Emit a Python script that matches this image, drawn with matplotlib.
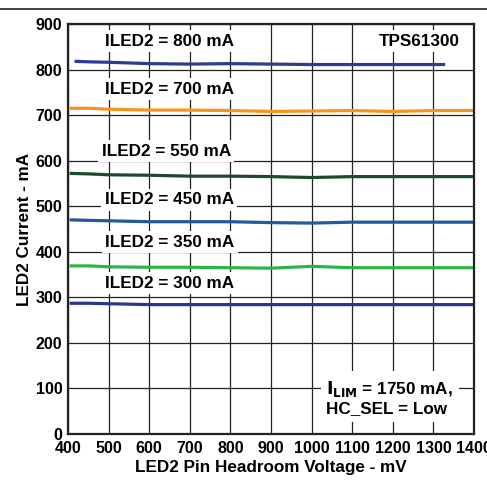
import matplotlib.pyplot as plt
from matplotlib.lines import Line2D

plt.rcParams['font.family'] = ['Liberation Sans', 'DejaVu Sans']
plt.rcParams['font.weight'] = 'bold'

# headroom voltage (mV) and LED2 current (mA)
v_800 = [420, 450, 500, 600, 700, 800, 900, 1000, 1100, 1200, 1325]
i_800 = [818, 817, 816, 813, 812, 813, 812, 811, 811, 811, 811]

v_std = [408, 450, 500, 600, 700, 800, 900, 1000, 1100, 1200, 1300, 1400]
i_700 = [715, 715, 713, 711, 711, 710, 708, 709, 710, 708, 710, 710]
i_550 = [572, 571, 569, 568, 566, 566, 565, 563, 565, 565, 565, 565]
i_450 = [470, 469, 468, 466, 466, 466, 464, 463, 465, 465, 465, 465]
i_350 = [369, 369, 367, 366, 366, 365, 364, 368, 365, 365, 365, 365]
i_300 = [287, 287, 286, 284, 284, 284, 284, 284, 284, 284, 284, 284]

labels = ['ILED2 = 800 mA', 'ILED2 = 700 mA', 'ILED2 = 550 mA',
          'ILED2 = 450 mA', 'ILED2 = 350 mA', 'ILED2 = 300 mA']
label_x = [650, 651, 642, 649, 651, 649]
label_y = [862, 757, 621, 514, 421, 331]

fig = plt.figure(figsize=(4.87, 4.8), dpi=100)
ax = fig.add_axes([68 / 487, 46 / 480, 406 / 487, 410 / 480])

fig.add_artist(Line2D([0, 1], [1 - 9 / 480, 1 - 9 / 480], color='#222222', lw=1.2))

ax.plot(v_800, i_800, color='#2e3a93', lw=2.3)
ax.plot(v_std, i_700, color='#f7941d', lw=2.3)
ax.plot(v_std, i_550, color='#1c4a2c', lw=2.3)
ax.plot(v_std, i_450, color='#215a9e', lw=2.3)
ax.plot(v_std, i_350, color='#2db34a', lw=2.3)
ax.plot(v_std, i_300, color='#2b3590', lw=2.3)

box = dict(facecolor='white', edgecolor='none', pad=2.5)
for txt, x, y in zip(labels, label_x, label_y):
    ax.text(x, y, txt, ha='center', va='center', fontsize=12.3,
            fontweight='bold', bbox=box, zorder=5)

ax.text(1265, 862, 'TPS61300', ha='center', va='center', fontsize=12.3,
        fontweight='bold', bbox=box, zorder=5)
ax.text(1036, 80, '$\\mathbf{I_{LIM}}$ = 1750 mA,\nHC_SEL = Low', ha='left',
        va='center', fontsize=12.3, fontweight='bold', linespacing=1.25,
        bbox=dict(facecolor='white', edgecolor='none', pad=4), zorder=5)

ax.set_xlim(400, 1400)
ax.set_ylim(0, 900)
ax.set_xticks(range(400, 1401, 100))
ax.set_yticks(range(0, 901, 100))
ax.tick_params(length=0, labelsize=11.5)
ax.tick_params(axis='x', pad=5)
ax.tick_params(axis='y', pad=4)
for lab in ax.get_xticklabels() + ax.get_yticklabels():
    lab.set_fontweight('bold')
ax.grid(True, color='#222222', lw=0.9)
ax.set_axisbelow(True)
for s in ax.spines.values():
    s.set_linewidth(1.6)
    s.set_color('#222222')

ax.set_xlabel('LED2 Pin Headroom Voltage - mV', fontsize=12.3, fontweight='bold', labelpad=3)
ax.set_ylabel('LED2 Current - mA', fontsize=12.3, fontweight='bold', labelpad=3)

fig.savefig('out.png', dpi=100)
